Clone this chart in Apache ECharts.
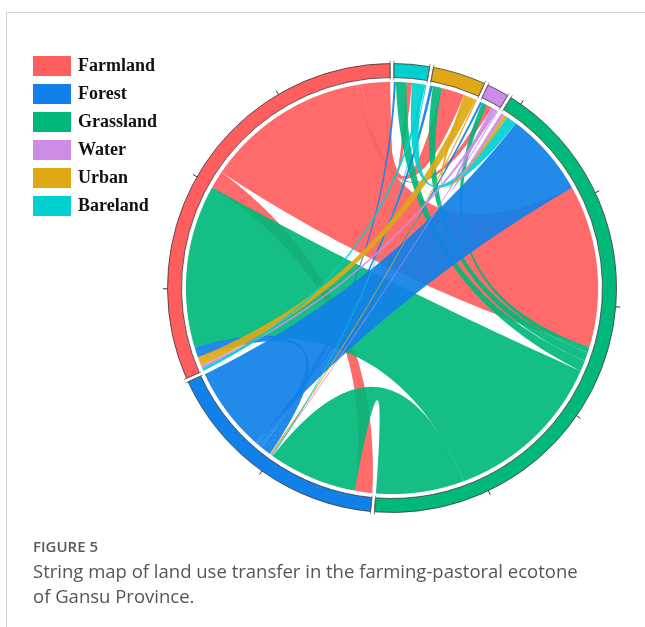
<!DOCTYPE html>
<html>
<head>
<meta charset="utf-8">
<script src="https://cdn.jsdelivr.net/npm/echarts@6/dist/echarts.min.js"></script>
<style>
  html, body { margin: 0; padding: 0; background: #fff; }
  #chart { width: 645px; height: 627px; }
</style>
</head>
<body>
<div id="chart"></div>
<script>
// Land-use classes, laid out counter-clockwise from the top of the circle
const landTypes = ['Farmland', 'Forest', 'Grassland', 'Water', 'Urban', 'Bareland'];
const typeColors = ['#FF5E5E', '#1180E8', '#00B87A', '#CC8CE8', '#E0A814', '#00D0D0'];

// Transfer flows (from class -> to class, transferred area)
const flowFrom = ['Urban', 'Water', 'Bareland', 'Grassland', 'Grassland',
  'Farmland', 'Farmland', 'Farmland', 'Farmland', 'Farmland',
  'Grassland', 'Grassland', 'Grassland',
  'Forest', 'Forest', 'Forest', 'Forest', 'Forest',
  'Urban', 'Water', 'Bareland', 'Bareland', 'Urban', 'Water'];
const flowTo = ['Forest', 'Forest', 'Forest', 'Forest', 'Farmland',
  'Bareland', 'Urban', 'Water', 'Grassland', 'Forest',
  'Bareland', 'Urban', 'Water',
  'Grassland', 'Water', 'Urban', 'Bareland', 'Farmland',
  'Farmland', 'Farmland', 'Farmland', 'Grassland', 'Grassland', 'Grassland'];
const flowArea = [4, 3, 3, 250, 460,
  15, 65, 15, 460, 50,
  30, 25, 15,
  240, 6, 8, 6, 30,
  25, 8, 8, 30, 10, 10];

// Spacing of the small ticks along each sector, in flow units
const tickStep = 300;
// Empty space left between neighbouring sectors, in flow units
const sectorGap = 10;

// ---- layout along the angle axis -------------------------------------
const typeIndex = name => landTypes.indexOf(name);
const sectorSize = landTypes.map(() => 0);
flowArea.forEach((v, i) => {
  sectorSize[typeIndex(flowFrom[i])] += v;
  sectorSize[typeIndex(flowTo[i])] += v;
});
const sectorStart = [];
let acc = sectorGap / 2;
sectorSize.forEach((s, k) => { sectorStart[k] = acc; acc += s + sectorGap; });
const angleMax = acc - sectorGap / 2;

// Inside each sector: outgoing flows first, then incoming ones, in list order
const cursor = sectorStart.slice();
const srcSpan = [], dstSpan = [];
flowArea.forEach((v, i) => {
  const k = typeIndex(flowFrom[i]);
  srcSpan[i] = [cursor[k], cursor[k] + v];
  cursor[k] += v;
});
flowArea.forEach((v, i) => {
  const k = typeIndex(flowTo[i]);
  dstSpan[i] = [cursor[k], cursor[k] + v];
  cursor[k] += v;
});

// Radii as fractions of the polar radius
const R_LINK = 0.918, R_IN = 0.9376, R_OUT = 1;
// Stacking of the ribbons by source class (later ones on top)
const layerOf = { Farmland: 0, Grassland: 1, Forest: 2, Water: 3, Urban: 3, Bareland: 3 };
// How far the curve control point leaves the centre towards the chord midpoint
const curvePull = 0.1;

function arcPoints(api, r, v0, v1) {
  const n = Math.max(2, Math.ceil(Math.abs(v1 - v0) / 1.5));
  const pts = [];
  for (let k = 0; k <= n; k++) pts.push(api.coord([r, v0 + (v1 - v0) * k / n]));
  return pts;
}
// Quadratic curve between two rim points, bent towards the centre
function curvePoints(p0, p2, c) {
  const ctrl = [c[0] + curvePull * ((p0[0] + p2[0]) / 2 - c[0]),
                c[1] + curvePull * ((p0[1] + p2[1]) / 2 - c[1])];
  const pts = [];
  const n = 48;
  for (let k = 1; k < n; k++) {
    const t = k / n, u = 1 - t;
    pts.push([u * u * p0[0] + 2 * u * t * ctrl[0] + t * t * p2[0],
              u * u * p0[1] + 2 * u * t * ctrl[1] + t * t * p2[1]]);
  }
  return pts;
}

function renderFlow(params, api) {
  const i = params.dataIndex;
  const c = api.coord([0, 0]);
  const a = arcPoints(api, R_LINK, srcSpan[i][0], srcSpan[i][1]);
  const b = arcPoints(api, R_LINK, dstSpan[i][0], dstSpan[i][1]);
  const pts = a.concat(curvePoints(a[a.length - 1], b[0], c), b, curvePoints(b[b.length - 1], a[0], c));
  return {
    type: 'polygon',
    z2: layerOf[flowFrom[i]],
    shape: { points: pts },
    style: { fill: typeColors[typeIndex(flowFrom[i])], opacity: 0.92 }
  };
}

function makeSectorRenderer(k) {
  return function (params, api) {
    const c = api.coord([0, 0]);
    const v0 = sectorStart[k], v1 = v0 + sectorSize[k];
    const angleAt = v => { const p = api.coord([1, v]); return Math.atan2(p[1] - c[1], p[0] - c[0]); };
    const radiusAt = r => { const p = api.coord([r, v0]); return Math.hypot(p[0] - c[0], p[1] - c[1]); };
    const a0 = angleAt(v0);
    let a1 = angleAt(v1);
    while (a1 > a0) a1 -= Math.PI * 2;
    const children = [{
      type: 'sector',
      shape: { cx: c[0], cy: c[1], r0: radiusAt(R_IN), r: radiusAt(R_OUT), startAngle: a0, endAngle: a1, clockwise: false },
      style: { fill: typeColors[k], stroke: '#3a3a3a', lineWidth: 0.8 }
    }];
    // ticks on the outer edge
    for (let v = v0 + tickStep; v < v1; v += tickStep) {
      const p = api.coord([R_OUT, v]), q = api.coord([1.02, v]);
      children.push({ type: 'line', shape: { x1: p[0], y1: p[1], x2: q[0], y2: q[1] }, style: { stroke: '#333', lineWidth: 1 } });
    }
    // border marks at both ends of the sector
    [v0, v1].forEach(v => {
      const p = api.coord([0.928, v]), q = api.coord([1.012, v]);
      children.push({ type: 'line', shape: { x1: p[0], y1: p[1], x2: q[0], y2: q[1] }, style: { stroke: '#666', lineWidth: 0.8 } });
    });
    return { type: 'group', children };
  };
}

const series = [{
  name: 'flows',
  type: 'custom',
  coordinateSystem: 'polar',
  renderItem: renderFlow,
  data: flowArea.map((v, i) => [R_LINK, srcSpan[i][0]]),
  silent: true,
  z: 2
}];
landTypes.forEach((name, k) => {
  series.push({
    name,
    type: 'custom',
    coordinateSystem: 'polar',
    renderItem: makeSectorRenderer(k),
    itemStyle: { color: typeColors[k] },
    data: [[R_OUT, sectorStart[k]]],
    silent: true,
    z: 3
  });
});

const chart = echarts.init(document.getElementById('chart'), null, { renderer: 'canvas' });
chart.setOption({
  animation: false,
  backgroundColor: '#fff',
  polar: { center: [392, 288], radius: 224.5 },
  angleAxis: { type: 'value', min: 0, max: angleMax, startAngle: 90, clockwise: false, show: false },
  radiusAxis: { type: 'value', min: 0, max: 1, show: false },
  legend: {
    orient: 'vertical',
    left: 33,
    top: 56,
    padding: 0,
    itemWidth: 38,
    itemHeight: 20,
    itemGap: 8,
    icon: 'rect',
    selectedMode: false,
    data: landTypes,
    itemStyle: { borderWidth: 0 },
    textStyle: { fontFamily: 'Liberation Serif', fontSize: 18, fontWeight: 'bold', color: '#111', padding: [0, 0, 0, 2] }
  },
  title: [{
    text: 'FIGURE 5',
    left: 33, top: 540, padding: 0,
    textStyle: { fontFamily: 'Open Sans', fontSize: 15, fontWeight: 600, color: '#5a5a5a' }
  }, {
    text: 'String map of land use transfer in the farming-pastoral ecotone\nof Gansu Province.',
    left: 33, top: 560, padding: 0,
    textStyle: { fontFamily: 'Open Sans', fontSize: 18.5, fontWeight: 'normal', color: '#555', lineHeight: 25 }
  }],
  graphic: [
    { type: 'line', shape: { x1: 6.5, y1: 12.5, x2: 645, y2: 12.5 }, style: { stroke: '#cfcfcf', lineWidth: 1 } },
    { type: 'line', shape: { x1: 6.5, y1: 12.5, x2: 6.5, y2: 627 }, style: { stroke: '#cfcfcf', lineWidth: 1 } }
  ],
  series
});
</script>
</body>
</html>
